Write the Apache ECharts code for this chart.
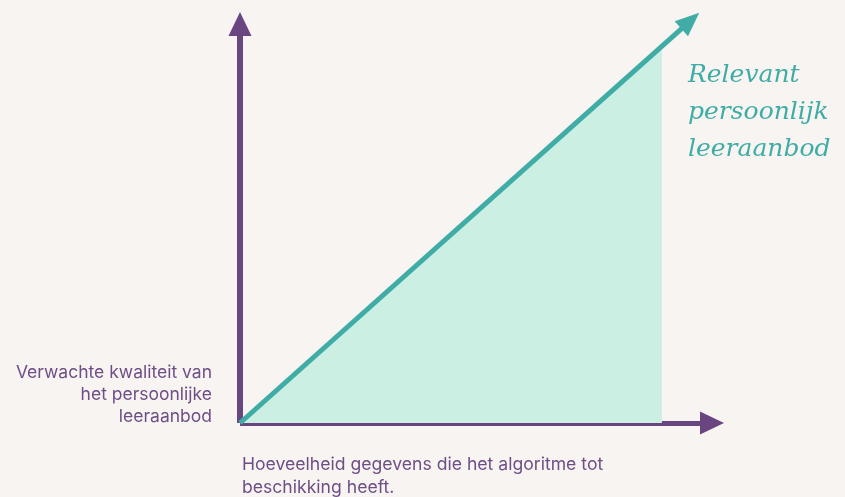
<!DOCTYPE html>
<html>
<head>
<meta charset="utf-8">
<script src="https://cdn.jsdelivr.net/npm/echarts@6/dist/echarts.min.js"></script>
<style>
html,body{margin:0;padding:0;background:#f8f4f1;}
#c{width:845px;height:497px;}
</style>
</head>
<body>
<div id="c"></div>
<script>
// Data (conceptual chart, axes 0-100)
const trendData = [[0, 0], [95.4, 100.8]];
const fillData = [[0, 0], [89.4, 94.4]];
const xAxisLabel = 'Hoeveelheid gegevens die het algoritme tot\nbeschikking heeft.';
const yAxisLabel = 'Verwachte kwaliteit van\nhet persoonlijke\nleeraanbod';
const trendLabel = 'Relevant\npersoonlijk\nleeraanbod';

const purple = '#6a4680';
const teal = '#3fada6';
const fill = '#ccefe3';
const textPurple = '#6e4e86';

const trendAngle = Math.atan2(trendData[1][1] * 399 / 100, trendData[1][0] * 472 / 100) * 180 / Math.PI;

const chart = echarts.init(document.getElementById('c'), null, {renderer: 'canvas'});
chart.setOption({
  backgroundColor: '#f8f4f1',
  animation: false,
  title: [
    {
      text: trendLabel, left: 688, top: 57, padding: 0,
      textStyle: {fontFamily: 'DejaVu Serif', fontStyle: 'italic', fontWeight: 'normal', fontSize: 25, lineHeight: 37, color: teal}
    },
    {
      text: yAxisLabel, left: 212, top: 362, padding: 0, textAlign: 'right',
      textStyle: {fontFamily: 'Inter', fontWeight: 'normal', fontSize: 17.5, lineHeight: 22, color: textPurple, align: 'right'}
    },
    {
      text: xAxisLabel, left: 242, top: 453, padding: 0,
      textStyle: {fontFamily: 'Inter', fontWeight: 'normal', fontSize: 17.6, lineHeight: 23, color: textPurple}
    }
  ],
  grid: {left: 240, right: 133, top: 24, bottom: 74, containLabel: false},
  xAxis: {
    type: 'value', min: 0, max: 100,
    axisLine: {show: true, symbol: ['none', 'triangle'], symbolSize: [23, 24], lineStyle: {color: purple, width: 5, cap: 'butt'}},
    axisTick: {show: false}, axisLabel: {show: false}, splitLine: {show: false}
  },
  yAxis: {
    type: 'value', min: 0, max: 100,
    axisLine: {show: true, symbol: ['none', 'triangle'], symbolSize: [23, 24], lineStyle: {color: purple, width: 6, cap: 'butt'}},
    axisTick: {show: false}, axisLabel: {show: false}, splitLine: {show: false}
  },
  series: [
    {
      type: 'line', data: fillData, symbol: 'none', silent: true, z: 1,
      lineStyle: {width: 0, opacity: 0},
      areaStyle: {color: fill, opacity: 1}
    },
    {
      type: 'line', silent: true, z: 3, clip: false, showSymbol: true,
      symbol: 'triangle', symbolSize: [20, 24],
      itemStyle: {color: teal},
      lineStyle: {color: teal, width: 5, cap: 'butt'},
      data: trendData.map((p, i) => i === trendData.length - 1
        ? {value: p, symbol: 'triangle', symbolRotate: trendAngle - 90}
        : {value: p, symbol: 'none'})
    }
  ]
});
</script>
</body>
</html>
